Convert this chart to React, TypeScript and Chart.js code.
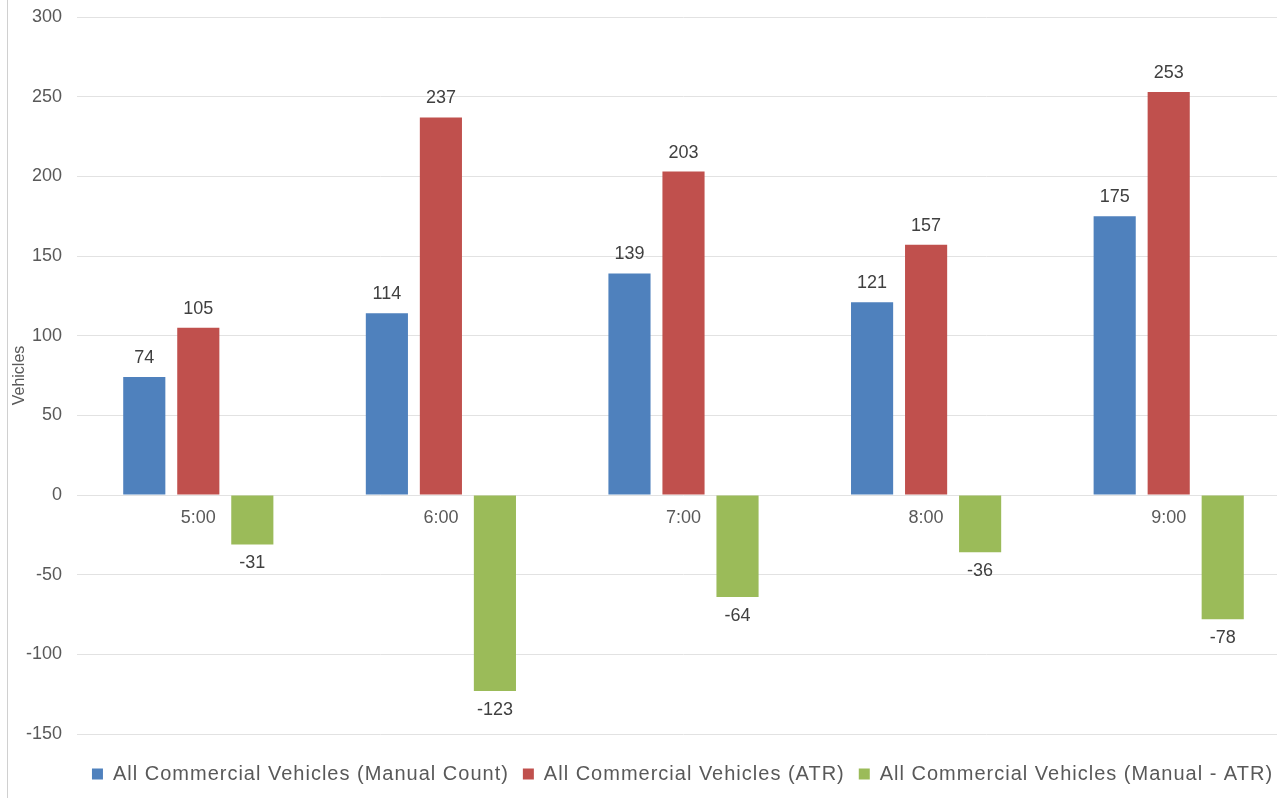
import React, { useEffect, useRef } from "react";
import { Chart, registerables } from "chart.js";

Chart.register(...registerables);

const hours = ["5:00", "6:00", "7:00", "8:00", "9:00"];
const manualCount = [74, 114, 139, 121, 175];
const atrCount = [105, 237, 203, 157, 253];
const manualMinusAtr = [-31, -123, -64, -36, -78];

const seriesNames = [
  "All Commercial Vehicles (Manual Count)",
  "All Commercial Vehicles (ATR)",
  "All Commercial Vehicles (Manual - ATR)",
];
const seriesColors = ["#4F81BD", "#C0504D", "#9BBB59"];

const yMin = -150;
const yMax = 300;
const yStep = 50;

const FONT = "'Liberation Sans', Arial, sans-serif";
const TEXT = "#595959";

// Writes each bar's value just beyond its end (above positive bars, below negative ones).
const valueLabels = {
  id: "valueLabels",
  afterDatasetsDraw(chart: any) {
    const { ctx } = chart;
    ctx.save();
    ctx.font = `18px ${FONT}`;
    ctx.fillStyle = "#404040";
    ctx.textAlign = "center";
    ctx.textBaseline = "middle";
    chart.data.datasets.forEach((ds: any, di: number) => {
      const meta = chart.getDatasetMeta(di);
      meta.data.forEach((bar: any, i: number) => {
        const v = ds.data[i] as number;
        const y = v >= 0 ? bar.y - 19 : bar.y + 19;
        ctx.fillText(String(v), bar.x, y);
      });
    });
    ctx.restore();
  },
};

// Legend text is set slightly wider (letter spacing) and the legend row is
// centred on the full figure width rather than only the padded part.
const legendTweaks = {
  id: "legendTweaks",
  afterInit(chart: any) {
    const lg = chart.legend;
    if (!lg) return;
    const wrap = (name: string) => {
      const orig = lg[name];
      lg[name] = function (...args: any[]) {
        const ctx = this.ctx;
        const prev = ctx.letterSpacing;
        ctx.letterSpacing = "1px";
        try {
          return orig.apply(this, args);
        } finally {
          ctx.letterSpacing = prev || "0px";
        }
      };
    };
    wrap("fit");
    wrap("draw");
  },
  afterLayout(chart: any) {
    const lg = chart.legend;
    if (!lg) return;
    lg.left = 40;
    lg.right = 1325;
    lg.width = lg.right - lg.left;
  },
};

// Thin frame line down the left edge of the figure.
const frameLine = {
  id: "frameLine",
  afterDraw(chart: any) {
    const { ctx, height } = chart;
    ctx.save();
    ctx.strokeStyle = "#d0d0d0";
    ctx.lineWidth = 1;
    ctx.beginPath();
    ctx.moveTo(7.5, 0);
    ctx.lineTo(7.5, height);
    ctx.stroke();
    ctx.restore();
  },
};

export default function App() {
  const canvasRef = useRef<HTMLCanvasElement | null>(null);

  useEffect(() => {
    if (!canvasRef.current) return;
    const chart = new Chart(canvasRef.current, {
      type: "bar",
      data: {
        labels: hours,
        datasets: [manualCount, atrCount, manualMinusAtr].map((values, k) => ({
          label: seriesNames[k],
          data: values,
          backgroundColor: seriesColors[k],
          borderWidth: 0,
          categoryPercentage: 0.668,
          barPercentage: 0.78,
        })),
      },
      options: {
        animation: false,
        responsive: false,
        maintainAspectRatio: false,
        layout: { padding: { left: 0, right: 75, top: 17, bottom: 4 } },
        plugins: {
          legend: {
            position: "bottom",
            title: {
              display: true,
              text: "",
              font: { size: 16, lineHeight: 1 },
              padding: 0,
            },
            labels: {
              boxWidth: 11,
              boxHeight: 11,
              padding: 14,
              color: TEXT,
              font: { family: FONT, size: 20 },
            },
          },
          tooltip: { enabled: false },
        },
        scales: {
          x: {
            position: { y: 0 } as any,
            grid: { display: false },
            border: { display: false },
            ticks: {
              color: TEXT,
              font: { family: FONT, size: 18 },
              padding: 4,
            },
          },
          y: {
            min: yMin,
            max: yMax,
            afterFit(scale: any) {
              scale.width = 77;
              scale.paddingTop = 0;
              scale.paddingBottom = 0;
            },
            ticks: {
              stepSize: yStep,
              color: TEXT,
              font: { family: FONT, size: 18 },
              padding: 15,
            },
            grid: { color: "#e2e2e2", drawTicks: false },
            border: { display: false },
            title: {
              display: true,
              text: "Vehicles",
              color: TEXT,
              font: { family: FONT, size: 16 },
              padding: { top: 10, bottom: 0 },
            },
          },
        },
      },
      plugins: [valueLabels, legendTweaks, frameLine],
    });
    return () => chart.destroy();
  }, []);

  return (
    <div
      style={{
        position: "fixed",
        left: 0,
        top: 0,
        width: 1277,
        height: 798,
        overflow: "hidden",
        background: "#fff",
      }}
    >
      <canvas ref={canvasRef} width={1365} height={798} style={{ display: "block" }} />
    </div>
  );
}
